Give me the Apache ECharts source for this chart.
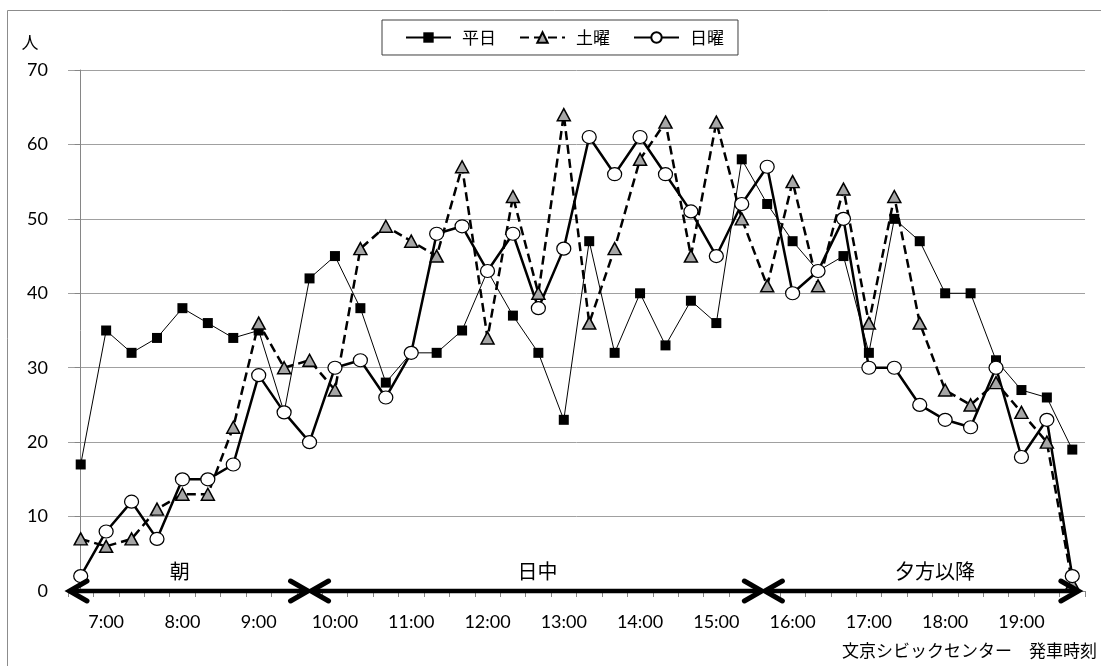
<!DOCTYPE html>
<html><head><meta charset="utf-8">
<script src="https://cdn.jsdelivr.net/npm/echarts@6/dist/echarts.min.js"></script>
<style>html,body{margin:0;padding:0;background:#fff}#c{width:1101px;height:666px}</style>
</head><body><div id="c"></div>
<script>
const categories = ['6:40','7:00','7:20','7:40','8:00','8:20','8:40','9:00','9:20','9:40',
  '10:00','10:20','10:40','11:00','11:20','11:40','12:00','12:20','12:40','13:00',
  '13:20','13:40','14:00','14:20','14:40','15:00','15:20','15:40','16:00','16:20',
  '16:40','17:00','17:20','17:40','18:00','18:20','18:40','19:00','19:20','19:40'];
const weekday = [17,35,32,34,38,36,34,35,24,42,45,38,28,32,32,35,43,37,32,23,47,32,40,33,39,36,58,52,47,43,45,32,50,47,40,40,31,27,26,19];
const saturday = [7,6,7,11,13,13,22,36,30,31,27,46,49,47,45,57,34,53,40,64,36,46,58,63,45,63,50,41,55,41,54,36,53,36,27,25,28,24,20,1];
const sunday = [2,8,12,7,15,15,17,29,24,20,30,31,26,32,48,49,43,48,38,46,61,56,61,56,51,45,52,57,40,43,50,30,30,25,23,22,30,18,23,2];
const seriesNames = ['平日','土曜','日曜'];
// period arrows (in category-index units)
const arrowFrom = [-0.5, 9.0, 26.85];
const arrowTo = [9.0, 26.85, 39.3];
const arrowLabelAt = [3.9, 17.97, 33.6];
const arrowLabels = ['朝','日中','夕方以降'];

const CJK = '"Noto Sans CJK JP", sans-serif';
const NUM = 'Lato, "Liberation Sans", sans-serif';
const chart = echarts.init(document.getElementById('c'), null, {renderer:'canvas'});
const arrowData = arrowFrom.map((f, i) => [f, arrowTo[i], arrowLabelAt[i]]);

chart.setOption({
  animation: false,
  backgroundColor: '#fff',
  graphic: [
    {type:'rect', z:-10, shape:{x:7.5, y:10.5, width:1200, height:800}, style:{fill:null, stroke:'#8c8c8c', lineWidth:1}},
    {type:'text', style:{text:'人', x:30, y:43, align:'center', verticalAlign:'middle', fontSize:17, fontFamily:CJK, fill:'#000'}},
    {type:'text', style:{text:'文京シビックセンター　発車時刻', x:1097, y:651, align:'right', verticalAlign:'middle', fontSize:17, fontFamily:CJK, fill:'#000'}}
  ],
  legend: {
    left: 382, top: 20, data: seriesNames,
    itemWidth: 45, itemHeight: 13, itemGap: 23,
    padding: [9, 14, 9, 23],
    borderColor: '#3f3f3f', borderWidth: 1,
    textStyle: {fontSize: 17, fontFamily: CJK, color: '#000', padding: [0, 0, 0, 6]}
  },
  grid: {left: 68, right: 16, top: 70, bottom: 75},
  xAxis: [{
    type: 'category', data: categories, boundaryGap: true,
    axisLine: {lineStyle: {color: '#868686', width: 1}},
    axisTick: {show: true, interval: 0, length: 6, lineStyle: {color: '#868686'}},
    axisLabel: {interval: (i) => i % 3 === 1, margin: 22, fontSize: 18, fontFamily: NUM, color: '#000'},
    splitLine: {show: false}
  }, {
    type: 'value', min: -0.5, max: 39.5, show: false
  }],
  yAxis: {
    type: 'value', min: 0, max: 70, interval: 10,
    axisLine: {show: true, lineStyle: {color: '#868686', width: 1}},
    axisTick: {show: true, length: 6, lineStyle: {color: '#868686'}},
    axisLabel: {margin: 20, fontSize: 18, fontFamily: NUM, color: '#000'},
    splitLine: {lineStyle: {color: '#a0a0a0', width: 1}}
  },
  series: [
    {
      name: '平日', type: 'line', data: weekday, showAllSymbol: true,
      symbol: 'rect', symbolSize: 10,
      lineStyle: {color: '#000', width: 1},
      itemStyle: {color: '#000', borderColor: '#000', borderWidth: 0}
    },
    {
      name: '土曜', type: 'line', data: saturday, showAllSymbol: true,
      symbol: 'triangle', symbolSize: [13, 12],
      lineStyle: {color: '#000', width: 2.5, type: [9, 5]},
      itemStyle: {color: '#a6a6a6', borderColor: '#000', borderWidth: 1.5}
    },
    {
      name: '日曜', type: 'line', data: sunday, showAllSymbol: true,
      symbol: 'circle', symbolSize: [14, 13],
      lineStyle: {color: '#000', width: 2.5},
      itemStyle: {color: '#fff', borderColor: '#000', borderWidth: 1.2}
    },
    {
      name: 'periods', type: 'custom', xAxisIndex: 1, yAxisIndex: 0,
      data: arrowData, encode: {x: [0, 1, 2]}, clip: false, z: 5, silent: true,
      renderItem: function (params, api) {
        const a = api.coord([api.value(0), 0]);
        const b = api.coord([api.value(1), 0]);
        const t = api.coord([api.value(2), 0]);
        const hx = 19, hy = 10;
        const st = {stroke: '#000', lineWidth: 5, fill: null, lineCap: 'round', lineJoin: 'miter'};
        return {type: 'group', children: [
          {type: 'line', shape: {x1: a[0] + 2, y1: a[1], x2: b[0] - 2, y2: b[1]}, style: {stroke: '#000', lineWidth: 4.5}},
          {type: 'polyline', shape: {points: [[a[0] + hx, a[1] - hy], [a[0] + 1.5, a[1]], [a[0] + hx, a[1] + hy]]}, style: st},
          {type: 'polyline', shape: {points: [[b[0] - hx, b[1] - hy], [b[0] - 1.5, b[1]], [b[0] - hx, b[1] + hy]]}, style: st},
          {type: 'text', style: {text: arrowLabels[params.dataIndex], x: t[0], y: t[1] - 20, align: 'center', verticalAlign: 'middle', fontSize: 20, fontFamily: CJK, fill: '#000'}}
        ]};
      }
    }
  ]
});
</script></body></html>
